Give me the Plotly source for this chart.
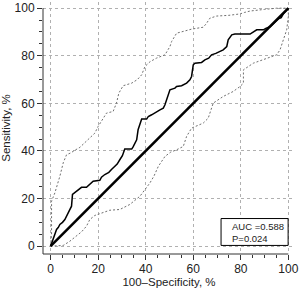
import plotly.graph_objects as go

# ROC curve (100-Specificity %, Sensitivity %)
roc_x = [0, 0.8, 1.8, 2.5, 3.2, 3.9, 5.0, 6.0, 7.4, 8.8, 9.2, 10.2, 11.6, 13.0, 15.1, 16.5, 17.9, 20.7, 21.4, 22.8,
         24.5, 25.6, 27.0, 28.0, 29.1, 30.2, 31.2, 34.1, 34.7, 35.5, 36.2, 36.8, 38.3, 40.4, 41.1, 42.5, 43.9, 44.6, 46.0, 47.4,
         48.1, 48.8, 50.2, 52.3, 53.0, 55.1, 56.5, 57.2, 58.6, 59.3, 60.0, 60.7, 63.5, 64.9, 66.5, 67.7, 69.5, 71.2, 72.6, 74.1,
         74.7, 76.2, 77.5, 83.9, 85.5, 86.7, 89.5, 90.5, 92.3, 93.5, 94.5, 95.8, 97.0, 98.0, 99.0, 100]
roc_y = [0, 2.5, 4.9, 7.0, 7.8, 9.1, 10.0, 11.2, 14.0, 16.8, 21.7, 22.5, 23.8, 24.7, 24.7, 25.8, 27.3, 27.7, 29.0, 30.1,
         31.0, 32.2, 33.5, 34.5, 36.3, 38.0, 40.8, 40.8, 41.7, 43.0, 44.7, 48.9, 53.4, 53.4, 54.5, 55.2, 55.9, 56.6, 57.3, 58.0,
         59.4, 61.5, 65.7, 66.4, 67.1, 67.4, 68.2, 68.5, 69.9, 71.3, 76.2, 76.9, 77.2, 78.3, 79.0, 80.4, 81.0, 81.8, 82.5, 83.9,
         86.7, 88.8, 89.1, 89.1, 90.0, 90.9, 90.9, 91.5, 92.2, 93.4, 94.5, 95.5, 96.0, 97.8, 98.8, 100]

# Upper confidence bound
ucx = [0, 0.4, 0.4, 1.8, 3.9, 5.3, 6.7, 8.5, 10.2, 12.3, 14.4, 16.5, 18.6, 20.0, 21.8, 23.5, 26.3, 27.7, 28.7, 30.5,
       34.1, 36.5, 38.3, 39.7, 41.8, 44.5, 48.1, 50.2, 50.9, 51.6, 53.0, 56.0, 59.3, 64.2, 65.5, 67.0, 69.9, 75.0, 79.7, 81.5,
       83.9, 90.0, 95.1, 100]
ucy = [0, 5, 18.9, 22.4, 29.4, 35.0, 38.4, 39.2, 40.3, 41.5, 43.5, 45.5, 47.5, 50.3, 53.0, 55.9, 56.6, 60.1, 64.3, 67.4,
       68.5, 70.0, 72.0, 75.5, 77.5, 79.0, 80.4, 83.9, 86.0, 87.4, 89.5, 90.3, 91.2, 92.0, 93.5, 95.8, 96.7, 97.0, 97.6, 98.2,
       98.8, 99.5, 100, 100]

# Lower confidence bound
lcx = [0, 5.3, 8.0, 10.9, 13.0, 15.1, 16.5, 18.6, 21.5, 24.9, 29.1, 33.3, 37.6, 41.8, 43.5, 45.3, 48.1, 50.5, 53.0, 55.8,
       57.2, 59.3, 64.2, 66.3, 68.4, 72.6, 76.8, 79.7, 81.1, 81.1, 85.3, 89.5, 93.0, 95.1, 96.5, 97.9, 99.3, 100, 100]
lcy = [0, 0.3, 2.0, 4.2, 6.0, 8.4, 11.2, 12.9, 14.0, 15.1, 15.4, 17.5, 21.0, 26.6, 29.5, 33.5, 37.7, 39.5, 40.5, 41.9,
       46.1, 49.6, 51.7, 53.8, 60.1, 62.9, 65.0, 67.1, 68.5, 74.1, 76.9, 78.3, 79.5, 80.4, 82.5, 86.7, 90.9, 96.5, 100]

diag = [0, 100]
ticks = [0, 20, 40, 60, 80, 100]
auc_text = "AUC =0.588"
p_text = "P=0.024"

FONT = "Arial, Liberation Sans, sans-serif"
TXT = "#222222"

fig = go.Figure()
fig.add_trace(go.Scatter(x=ucx, y=ucy, mode="lines", line=dict(color="#6f6f6f", width=1, dash="2px,2px"),
                         hoverinfo="skip"))
fig.add_trace(go.Scatter(x=lcx, y=lcy, mode="lines", line=dict(color="#6f6f6f", width=1, dash="2px,2px"),
                         hoverinfo="skip"))
fig.add_trace(go.Scatter(x=diag, y=diag, mode="lines", line=dict(color="black", width=2.6)))
fig.add_trace(go.Scatter(x=roc_x, y=roc_y, mode="lines", line=dict(color="black", width=1.5)))

xr = [-3.2, 102.8]
yr = [-3.3, 102.6]

axis_common = dict(
    tickvals=ticks, ticktext=[str(t) for t in ticks],
    showgrid=True, gridcolor="#b0b0b0", griddash="dot", gridwidth=1,
    zeroline=False, showline=False,
    ticks="outside", ticklen=5, tickwidth=1, tickcolor="#333333",
    minor=dict(dtick=5, tick0=0, ticks="outside", ticklen=3, tickwidth=1, tickcolor="#333333", showgrid=False),
    tickfont=dict(family=FONT, size=12, color=TXT),
    fixedrange=True,
)

fig.update_layout(
    width=300, height=288,
    margin=dict(l=43, r=5, t=2, b=34),
    plot_bgcolor="white", paper_bgcolor="white",
    showlegend=False,
    xaxis=dict(range=xr, ticklabelstandoff=-1,
               title=dict(text="100\u2013Specificity, %", font=dict(family=FONT, size=11.5, color=TXT), standoff=0),
               **axis_common),
    yaxis=dict(range=yr, title=dict(text="Sensitivity, %", font=dict(family=FONT, size=11.5, color=TXT), standoff=4),
               **axis_common),
    shapes=[
        dict(type="line", xref="x", yref="paper", x0=xr[0], x1=100, y0=0, y1=0, line=dict(color="#333333", width=1)),
        dict(type="line", xref="paper", yref="y", x0=0, x1=0, y0=yr[0], y1=100, line=dict(color="#333333", width=1)),
        dict(type="rect", xref="x", yref="y", x0=71.7, x1=99.9, y0=0.3, y1=11.6,
             line=dict(color="black", width=1), fillcolor="white", layer="above"),
    ],
    annotations=[
        dict(x=75.4, y=8.1, xref="x", yref="y", text=auc_text, showarrow=False, xanchor="left", yanchor="middle",
             font=dict(family=FONT, size=9.5, color=TXT)),
        dict(x=75.4, y=3.3, xref="x", yref="y", text=p_text, showarrow=False, xanchor="left", yanchor="middle",
             font=dict(family=FONT, size=9.5, color=TXT)),
    ],
)

fig.write_html("out.html", config={"displayModeBar": False})
